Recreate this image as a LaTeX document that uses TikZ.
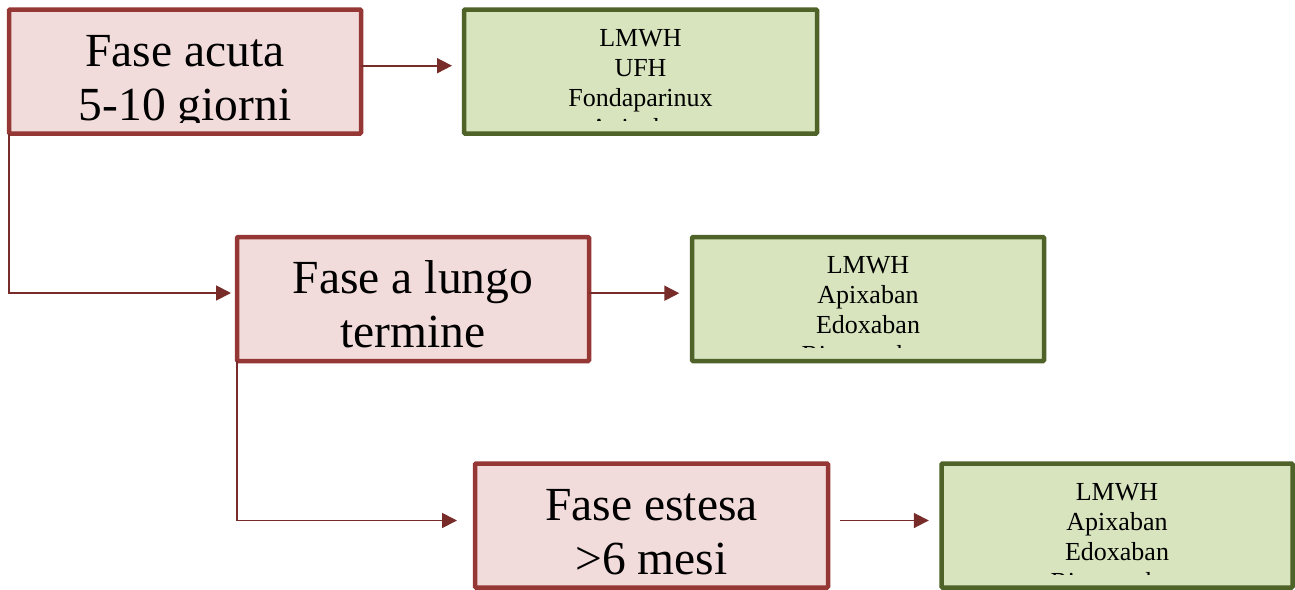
\documentclass[tikz,border=0pt]{standalone}
\usepackage{fontspec}
\setmainfont{Liberation Serif}
\usetikzlibrary{arrows.meta}
\definecolor{pinkfill}{HTML}{F2DCDB}
\definecolor{pinkline}{HTML}{953735}
\definecolor{greenfill}{HTML}{D7E4BD}
\definecolor{greenline}{HTML}{4F6228}
\definecolor{connline}{HTML}{772C2A}
\tikzset{
  phase/.style={draw=pinkline, fill=pinkfill, line width=4.5pt, rounded corners=1pt, outer sep=0pt, minimum height=124pt, inner sep=0pt},
  drugs/.style={draw=greenline, fill=greenfill, line width=4.5pt, rounded corners=1pt, outer sep=0pt, minimum height=124pt, inner sep=0pt},
  phasetext/.style={anchor=base, inner sep=0pt, font=\fontsize{47.5}{54}\selectfont},
  drugtext/.style={anchor=base, inner sep=0pt, font=\fontsize{26}{30}\selectfont},
  conn/.style={draw=connline, line width=1.8pt, -{Triangle[length=15pt,width=15pt]}}
}
\begin{document}
\begin{tikzpicture}[x=1pt,y=-1pt]
\useasboundingbox (0,0) rectangle (1295,589);
% boxes
\node[phase, minimum width=352pt] (a1) at (185,71.5) {};
\node[drugs, minimum width=353pt] (g1) at (640.5,71.5) {};
\node[phase, minimum width=352pt] (a2) at (413,299) {};
\node[drugs, minimum width=352pt] (g2) at (868,299) {};
\node[phase, minimum width=353pt] (a3) at (651.5,525.5) {};
\node[drugs, minimum width=351pt] (g3) at (1117,525.5) {};
% texts (clipped to the box like the original)
\begin{scope}
  \clip (a1.north west) rectangle ([yshift=11pt]a1.south east);
  \node[phasetext] (a1l1) at (185,66) {Fase acuta};
  \node[phasetext] (a1l2) at (185,120) {5-10 giorni};
\end{scope}
\begin{scope}
  \clip (a2.north west) rectangle ([yshift=11pt]a2.south east);
  \node[phasetext] (a2l1) at (413,293) {Fase a lungo};
  \node[phasetext] (a2l2) at (413,347) {termine};
\end{scope}
\begin{scope}
  \clip (a3.north west) rectangle ([yshift=11pt]a3.south east);
  \node[phasetext] (a3l1) at (651.5,520) {Fase estesa};
  \node[phasetext] (a3l2) at (651.5,574) {>6 mesi};
\end{scope}
\begin{scope}
  \clip (g1.north west) rectangle ([yshift=13.5pt]g1.south east);
  \foreach \t [count=\i] in {LMWH,UFH,Fondaparinux,Apixaban}
    \node[drugtext] (g1l\i) at (640.5,{46+30*(\i-1)}) {\t};
\end{scope}
\begin{scope}
  \clip (g2.north west) rectangle ([yshift=13.5pt]g2.south east);
  \foreach \t [count=\i] in {LMWH,Apixaban,Edoxaban,Rivaroxaban}
    \node[drugtext] (g2l\i) at (868,{273+30*(\i-1)}) {\t};
\end{scope}
\begin{scope}
  \clip (g3.north west) rectangle ([yshift=13.5pt]g3.south east);
  \foreach \t [count=\i] in {LMWH,Apixaban,Edoxaban,Rivaroxaban}
    \node[drugtext] (g3l\i) at (1117,{500+30*(\i-1)}) {\t};
\end{scope}
% connectors
\draw[conn, shorten >=12pt] ([yshift=5.8pt]a1.east) -- ([yshift=5.8pt]g1.west);
\draw[conn, shorten >=12.7pt] ([yshift=5.8pt]a2.east) -- ([yshift=5.8pt]g2.west);
\draw[conn, shorten <=12pt, shorten >=12.7pt] ([yshift=5pt]a3.east) -- ([yshift=5pt]g3.west);
\draw[conn, shorten >=6pt] (a1.south west) |- ([yshift=6pt]a2.west);
\draw[conn, shorten >=18pt] (a2.south west) |- ([yshift=5pt]a3.west);
\end{tikzpicture}
\end{document}
